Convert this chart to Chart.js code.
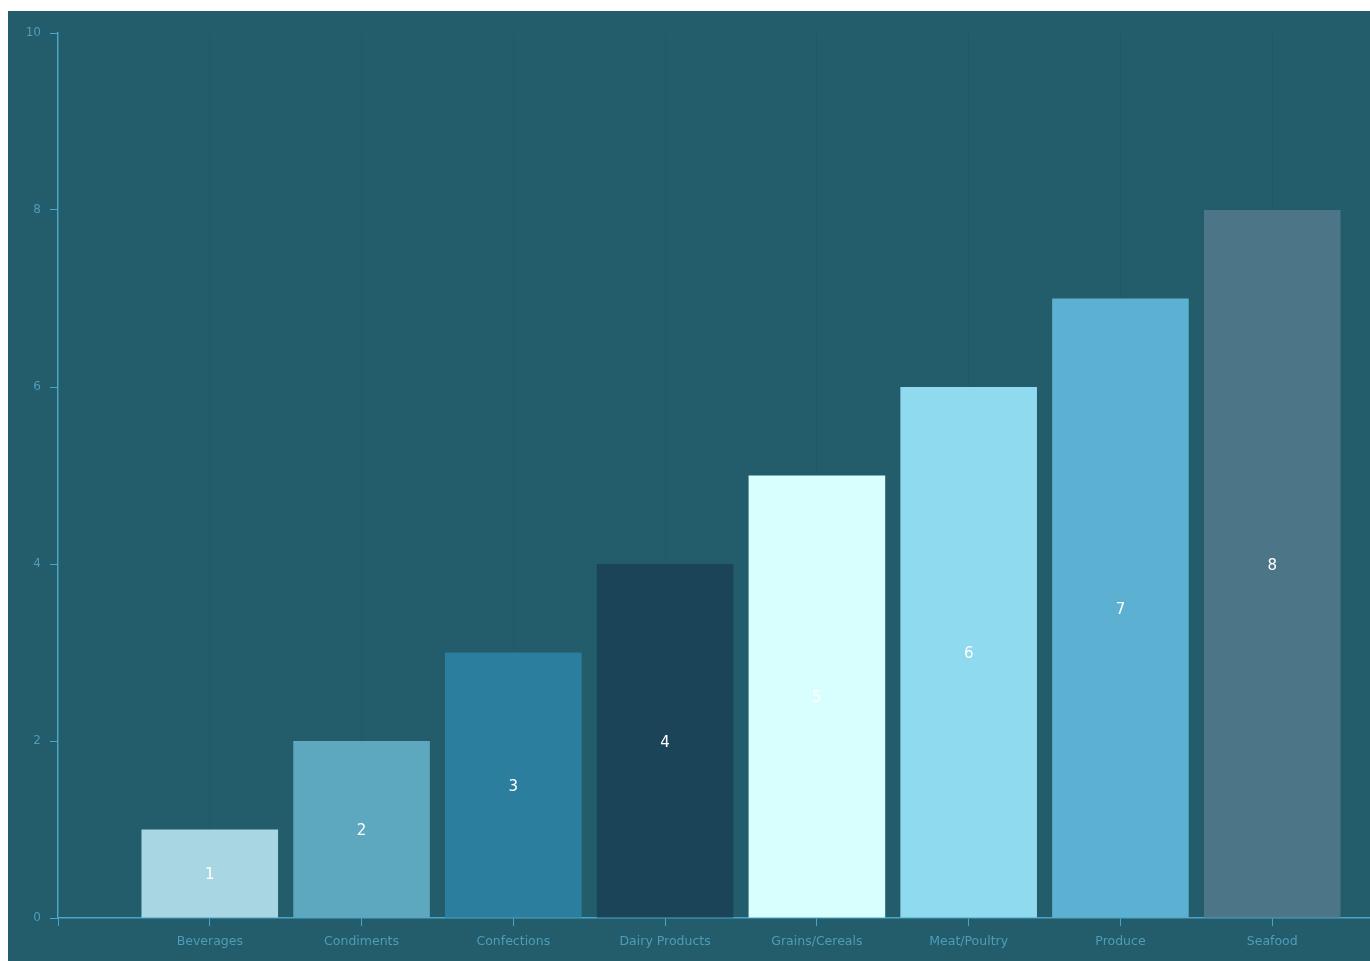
<!DOCTYPE html>
<html>
<head>
<meta charset="utf-8">
<script src="https://cdn.jsdelivr.net/npm/chart.js@4/dist/chart.umd.min.js"></script>
<style>
  html, body { margin: 0; padding: 0; background: #fff; overflow: hidden; }
  #wrap { position: absolute; left: 8px; top: 11px; width: 1424px; height: 950px; background: #235c6a; }
</style>
</head>
<body>
<div id="wrap"><canvas id="chart"></canvas></div>
<script>
// padded with empty slots at both ends so the first category sits one step in from the axis
const categories = ['', 'Beverages', 'Condiments', 'Confections', 'Dairy Products', 'Grains/Cereals', 'Meat/Poultry', 'Produce', 'Seafood', ''];
const values = [null, 1, 2, 3, 4, 5, 6, 7, 8, null];
const barColors = [null, '#a8d7e3', '#5ea8bf', '#2b7e9e', '#1c4458', '#d8fffe', '#90daf0', '#5cb0d1', '#4c7587', null];
const yTicks = [0, 2, 4, 6, 8, 10];

const axisColor = '#4aa5c8';
const tickText = '#4d9dbb';

const valueLabels = {
    id: 'valueLabels',
    afterDatasetsDraw(chart) {
        const ctx = chart.ctx;
        const meta = chart.getDatasetMeta(0);
        ctx.save();
        ctx.fillStyle = '#ffffff';
        ctx.font = '15px "DejaVu Sans", sans-serif';
        ctx.textAlign = 'center';
        ctx.textBaseline = 'middle';
        meta.data.forEach((bar, i) => {
            const v = values[i];
            if (v == null) return;
            ctx.fillText(String(v), bar.x, (bar.y + bar.base) / 2 + 2);
        });
        ctx.restore();
    }
};

function initChart() {
    const ctx = document.getElementById('chart').getContext('2d');
    new Chart(ctx, {
        type: 'bar',
        data: {
            labels: categories,
            datasets: [{
                data: values,
                backgroundColor: barColors,
                borderWidth: 0,
                barPercentage: 1,
                categoryPercentage: 0.9
            }]
        },
        options: {
            responsive: true,
            maintainAspectRatio: false,
            animation: false,
            layout: { padding: { top: 22, left: 0, right: 0, bottom: 0 } },
            plugins: {
                legend: { display: false },
                tooltip: { enabled: false }
            },
            scales: {
                x: {
                    offset: false,
                    border: { color: axisColor, width: 1.5 },
                    grid: {
                        offset: false,
                        color: 'rgba(0,0,0,0.035)',
                        tickColor: axisColor,
                        tickLength: 8,
                        lineWidth: 1
                    },
                    ticks: {
                        color: tickText,
                        font: { family: '"DejaVu Sans", sans-serif', size: 12.5 },
                        padding: 8,
                        maxRotation: 0,
                        autoSkip: false
                    },
                    afterFit(scale) { scale.height = 43; }
                },
                y: {
                    min: 0,
                    max: 10,
                    border: { color: axisColor, width: 1.5 },
                    grid: {
                        drawOnChartArea: false,
                        tickColor: axisColor,
                        tickLength: 8
                    },
                    afterBuildTicks(scale) {
                        scale.ticks = yTicks.map(v => ({ value: v }));
                    },
                    ticks: {
                        color: tickText,
                        font: { family: '"DejaVu Sans", sans-serif', size: 12 },
                        padding: 9
                    },
                    afterFit(scale) { scale.width = 50; }
                }
            }
        },
        plugins: [valueLabels]
    });
}

document.addEventListener('DOMContentLoaded', () => {
    initChart();
});
</script>
</body>
</html>
